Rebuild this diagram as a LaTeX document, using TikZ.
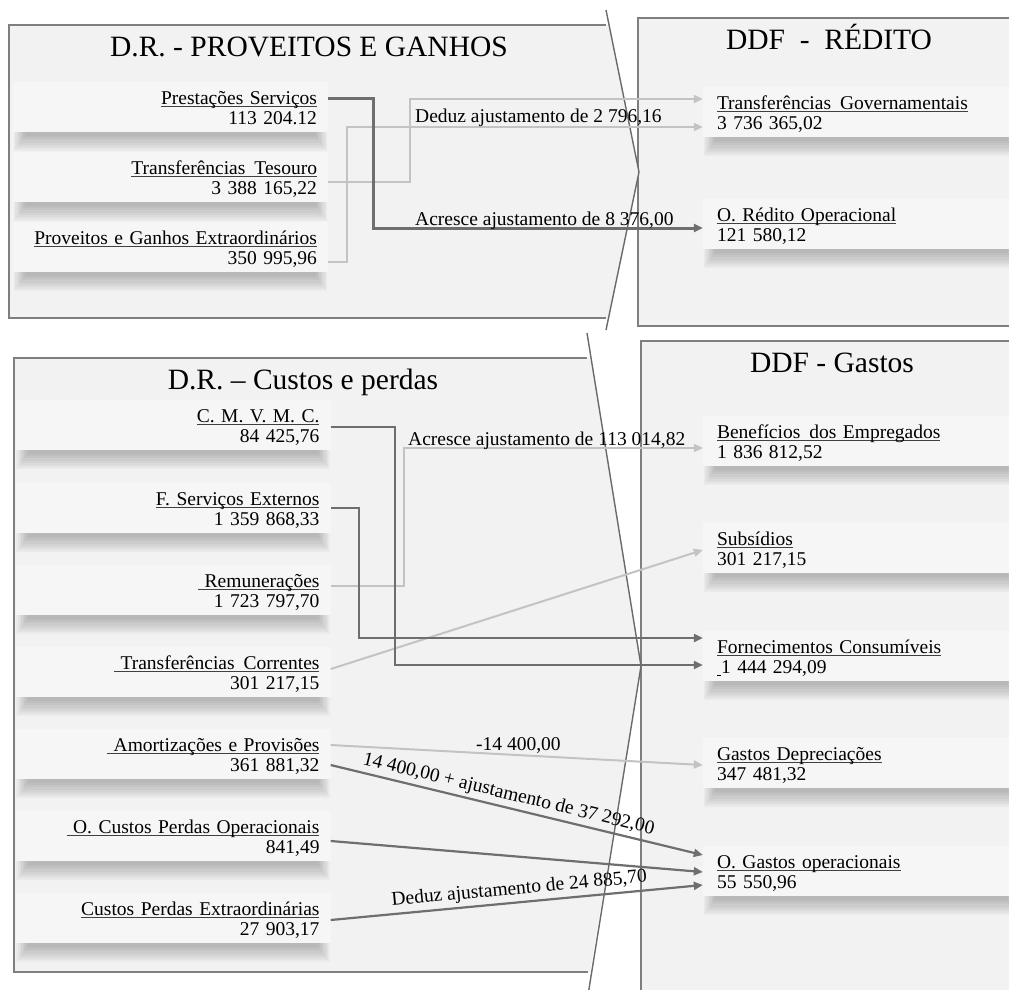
\documentclass[tikz,border=0pt]{standalone}
\usepackage{fontspec}
\setmainfont{Liberation Serif}
\usetikzlibrary{arrows.meta}
\pgfdeclarelayer{panels}
\pgfdeclarelayer{shadows}
\pgfsetlayers{panels,shadows,main}
\definecolor{panelfill}{HTML}{F2F2F2}
\definecolor{boxfill}{HTML}{F6F6F6}
\definecolor{panelline}{HTML}{7F7F7F}
\definecolor{chevline}{HTML}{6A6A6A}
\definecolor{darkline}{HTML}{6E6E6E}
\definecolor{lightline}{HTML}{C3C3C3}
\newcommand\ulin[1]{\leavevmode\setbox0\hbox{#1}\rlap{\color{black!75}\rule[-2.8pt]{\wd0}{1.1pt}}\box0}
\newcommand\bxtxt[2]{\rule{0pt}{22pt}\ulin{#1}\\#2\rule[-7pt]{0pt}{7pt}}
\newcommand\wsp{\ \hspace{2.5pt}}
\begin{document}
\begin{tikzpicture}[x=1pt,y=-1pt,
  panel/.style={fill=panelfill,draw=panelline,line width=1.3pt},
  chev/.style={draw=chevline,line width=1.4pt},
  card/.style={fill=boxfill, inner ysep=0pt, anchor=north,
     font=\fontsize{19.5}{20.5}\selectfont},
  lcard/.style={card, inner xsep=11pt, text width=293pt, align=right},
  rcard/.style={card, inner xsep=14pt, text width=289pt, align=left},
  shadowlayer/.style={fill=black, opacity=0.032},
  title/.style={font=\fontsize{29.5}{32}\selectfont, anchor=base, inner sep=0pt},
  lbl/.style={font=\fontsize{19.5}{20.5}\selectfont, inner sep=0pt, anchor=base west},
  slbl/.style={font=\fontsize{19.5}{20.5}\selectfont, inner sep=3pt, sloped, above},
  dark/.style={draw=darkline, line width=2.2pt, -{Triangle[length=9pt,width=8pt]}},
  light/.style={draw=lightline, line width=2pt, -{Triangle[length=9pt,width=8pt]}},
]
\useasboundingbox (0,0) rectangle (1009,989);

\begin{pgfonlayer}{panels}
\fill[white] (0,0) rectangle (1009,989);
% right panels
\filldraw[panel] (638,18) rectangle (1015,326);
\filldraw[panel] (641,341) rectangle (1015,1000);
% upper left chevron panel
\fill[panelfill] (9,25) -- (609,25) -- (639,172) -- (609,318) -- (9,318) -- cycle;
\draw[panelline, line width=1.3pt] (606,25) -- (9,25) -- (9,318) -- (606,318);
\draw[chev] (606,10) -- (639,172) -- (606,330);
% lower left chevron panel
\fill[panelfill] (14,358) -- (591,358) -- (641,666) -- (590,972) -- (14,972) -- cycle;
\draw[panelline, line width=1.3pt] (587,358) -- (14,358) -- (14,972) -- (588,972);
\draw[chev] (587,333) -- (641,666) -- (588,995);
\end{pgfonlayer}

% titles
\node[title] (t1) at (309,56) {D.R. - PROVEITOS E GANHOS};
\node[title] (t2) at (829,49) {DDF\ \ -\ \ RÉDITO};
\node[title] (t3) at (303,389) {D.R. – Custos e perdas};
\node[title] (t4) at (832,372) {DDF - Gastos};

% upper left boxes
\node[lcard] (ps)  at (170.5,82)  {\bxtxt{Prestações Serviços}{113 204.12}};
\node[lcard] (tt)  at (170.5,152) {\bxtxt{Transferências\wsp Tesouro}{3 388 165,22}};
\node[lcard] (pge) at (170.5,222) {\bxtxt{Proveitos e Ganhos Extraordinários}{350 995,96}};

% upper right boxes
\node[rcard] (tg) at (861.5,87)  {\bxtxt{Transferências\wsp Governamentais}{3 736 365,02}};
\node[rcard] (ro) at (861.5,199) {\bxtxt{O. Rédito Operacional}{121 580,12}};

% lower left boxes
\node[lcard] (cmv) at (173,400) {\bxtxt{C. M. V. M. C.}{84 425,76}};
\node[lcard] (fse) at (173,483) {\bxtxt{F. Serviços Externos}{1 359 868,33}};
\node[lcard] (rem) at (173,565) {\bxtxt{\ Remunerações}{1 723 797,70}};
\node[lcard] (tc)  at (173,647) {\bxtxt{\ Transferências\wsp Correntes}{301 217,15}};
\node[lcard] (amp) at (173,729) {\bxtxt{\ Amortizações e Provisões}{361 881,32}};
\node[lcard] (ocp) at (173,811) {\bxtxt{\ O. Custos Perdas Operacionais}{841,49}};
\node[lcard] (cpe) at (173,893) {\bxtxt{Custos Perdas Extraordinárias}{27 903,17}};

% lower right boxes
\node[rcard] (be)  at (861.5,416) {\bxtxt{Benefícios\wsp dos Empregados}{1 836 812,52}};
\node[rcard] (sub) at (861.5,523) {\bxtxt{Subsídios}{301 217,15}};
\node[rcard] (fc)  at (861.5,631) {\bxtxt{Fornecimentos Consumíveis}{\rule[-2pt]{4pt}{0.8pt}1 444 294,09}};
\node[rcard] (gd)  at (861.5,738) {\bxtxt{Gastos Depreciações}{347 481,32}};
\node[rcard] (og)  at (861.5,846) {\bxtxt{O. Gastos operacionais}{55 550,96}};

% soft shadows under the boxes
\begin{pgfonlayer}{shadows}
\foreach \n in {ps,tt,pge,tg,ro,cmv,fse,rem,tc,amp,ocp,cpe,be,sub,fc,gd,og}{
  \foreach \i in {0,...,7}{
    \fill[shadowlayer] ([xshift=\i*1.6pt+1pt]\n.south west) rectangle ([xshift=-\i*1.6pt-1pt,yshift=-19pt+\i*2.1pt]\n.south east);
  }
}
\end{pgfonlayer}

% upper connectors
\draw[light] (tt.east |- 0,182) -- ++(82,0) |- (tg.west |- 0,99);
\draw[light] (pge.east |- 0,262) -- ++(19,0) |- (tg.west |- 0,127);
\draw[dark, line width=3pt] (ps.east |- 0,98) -- ++(45,0) |- (ro.west |- 0,228);
\node[lbl] (l1) at (415,122) {Deduz ajustamento de 2 796,16};
\node[lbl] (l2) at (415,225) {Acresce ajustamento de 8 376,00};

% lower connectors
\draw[light] (rem.east |- 0,586) -- ++(73,0) |- (be.west |- 0,448);
\draw[light] (tc.east |- 0,669) -- (sub.west |- 0,550);
\draw[dark] (fse.east |- 0,508) -- ++(28,0) |- (fc.west |- 0,638);
\draw[dark] (cmv.east |- 0,427) -- ++(64,0) |- (fc.west |- 0,665);
\draw[light] (amp.east |- 0,745) -- (gd.west |- 0,765);
\draw[dark] (amp.east |- 0,765) -- node[slbl,pos=0.47] (l5) {14 400,00 + ajustamento de 37 292,00} (og.west |- 0,855);
\draw[dark] (ocp.east |- 0,841) -- (og.west |- 0,872);
\draw[dark] (cpe.east |- 0,920) -- node[slbl,pos=0.51] (l6) {Deduz ajustamento de 24 885,70} (og.west |- 0,885);
\node[lbl] (l3) at (408,445) {Acresce ajustamento de 113 014,82};
\node[lbl] (l4) at (476,750) {-14 400,00};
\end{tikzpicture}
\end{document}
